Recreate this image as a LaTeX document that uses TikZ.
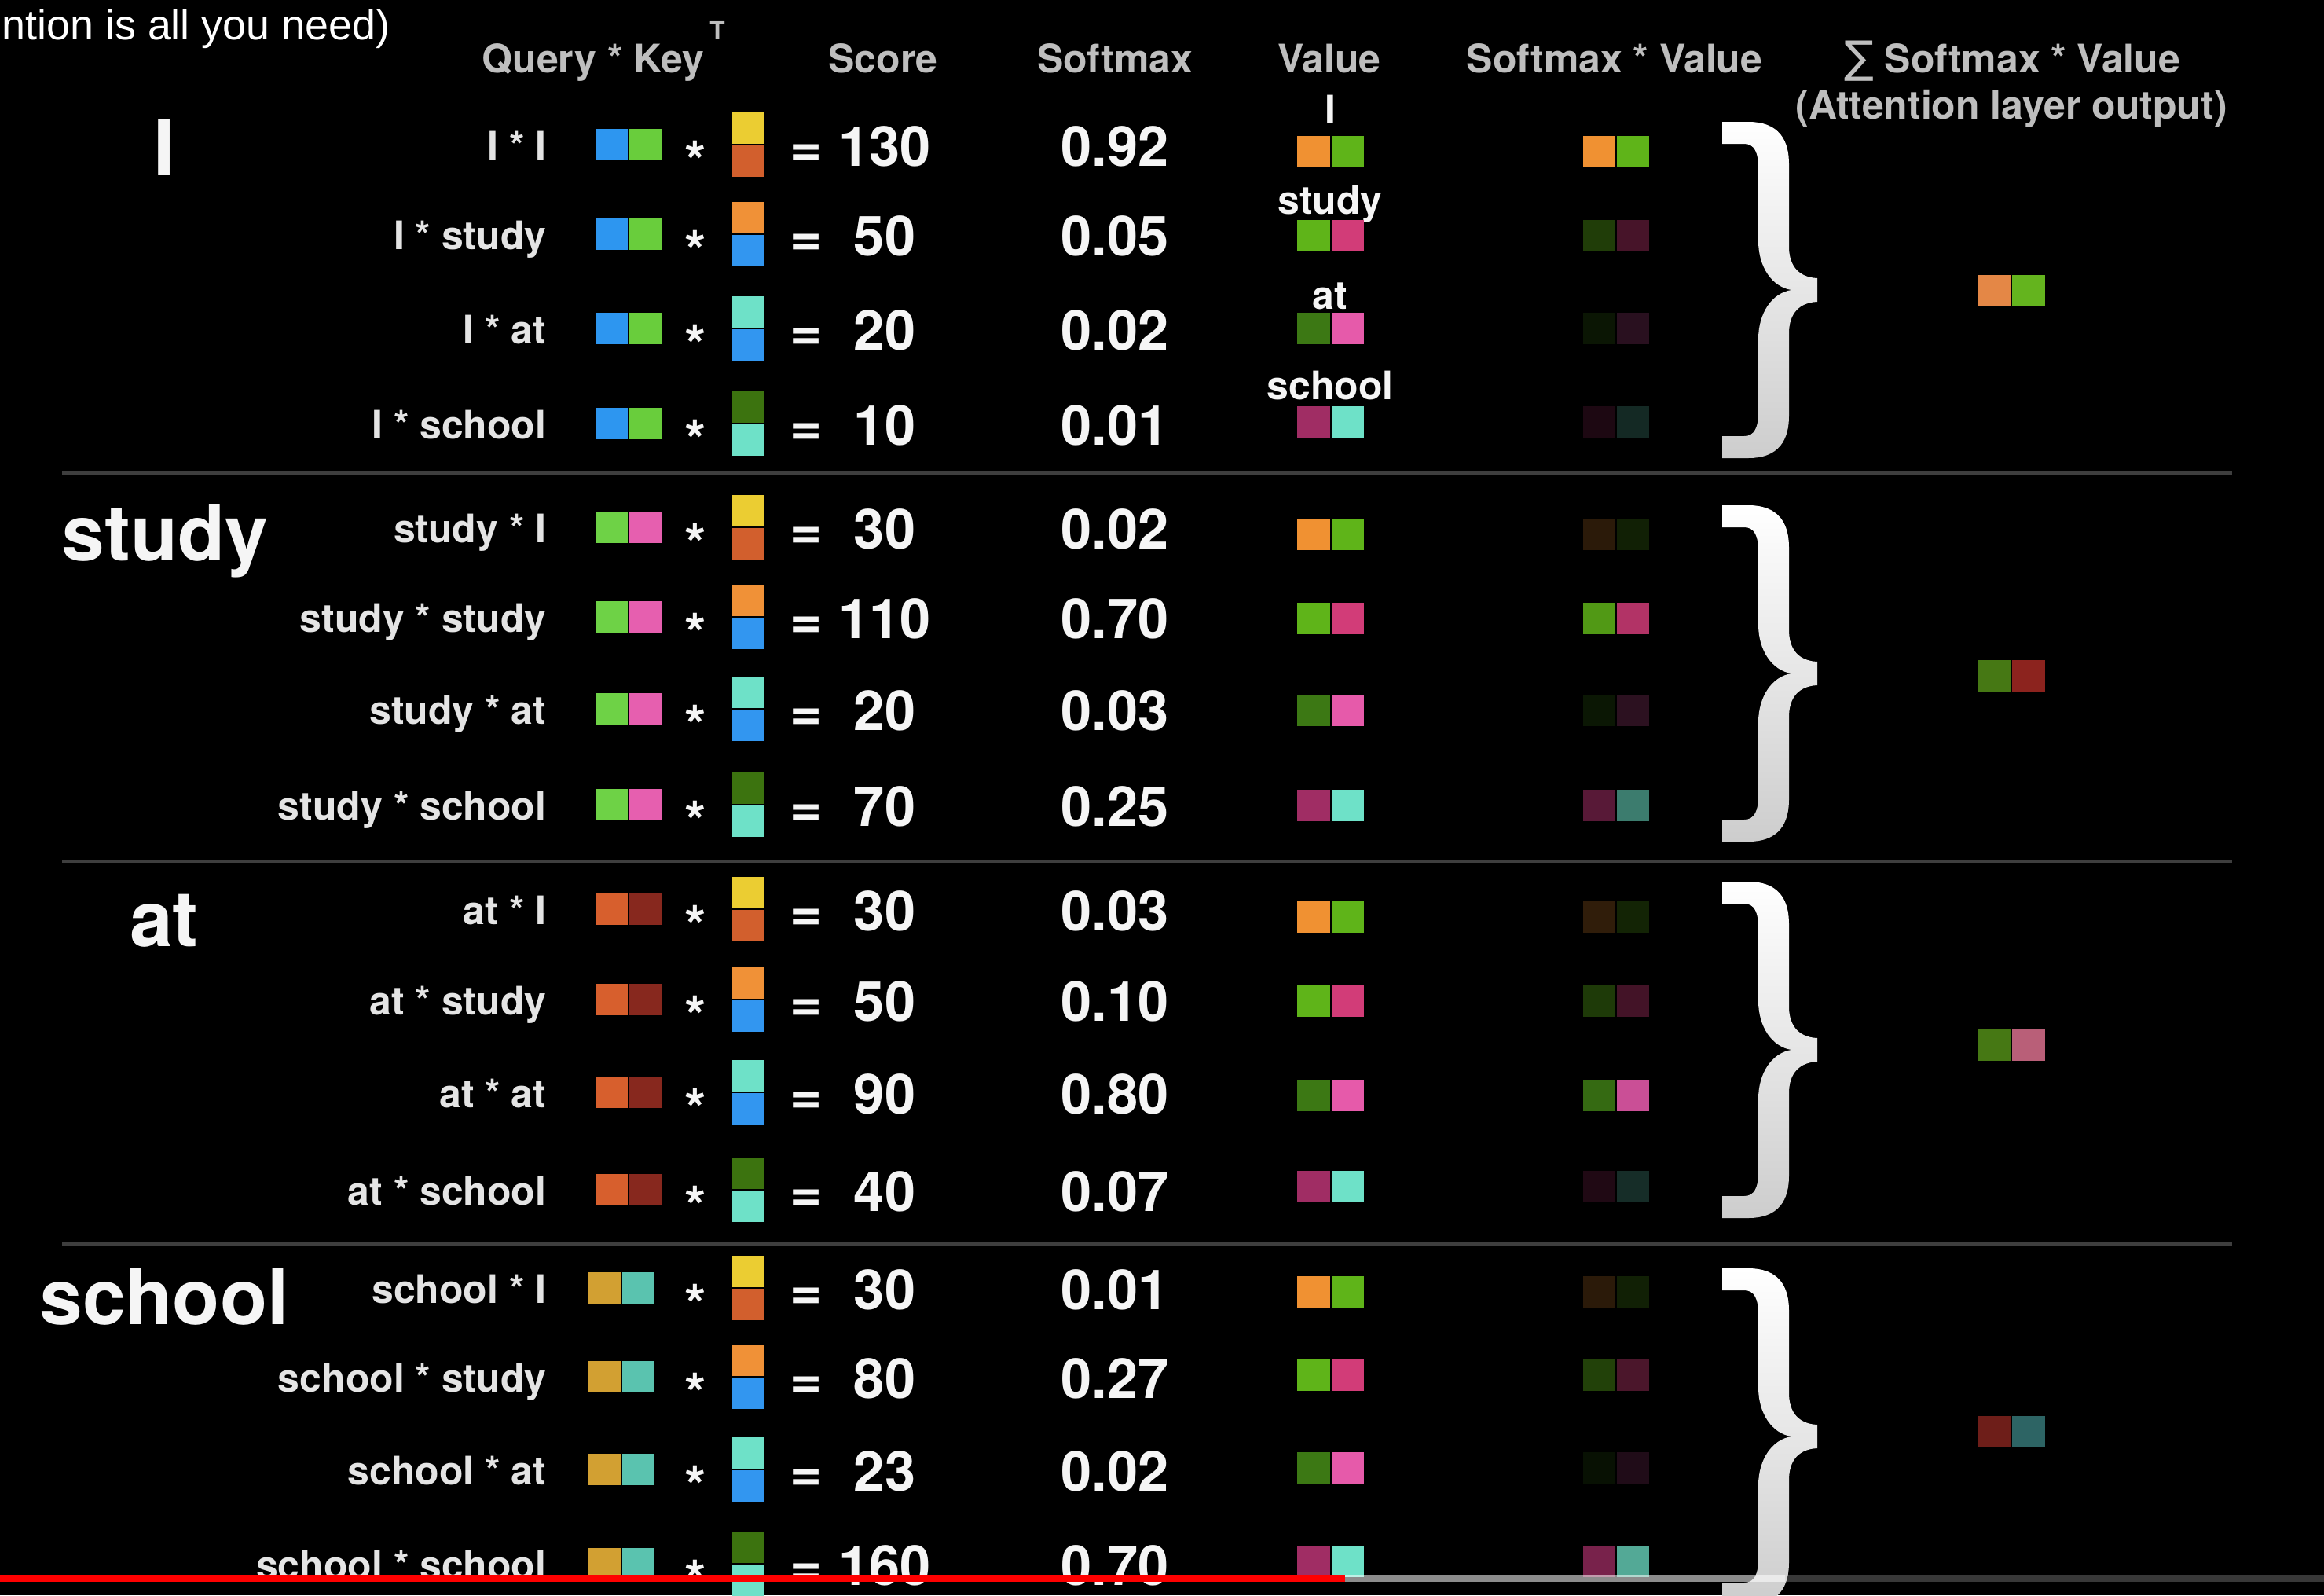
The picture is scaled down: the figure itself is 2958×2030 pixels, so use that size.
\documentclass[tikz,border=0pt]{standalone}
\usepackage{fontspec}
\setmainfont{TeX Gyre Heros}
\newfontfamily\titlefont{Liberation Sans}
\newfontfamily\symfont{DejaVu Sans}

\definecolor{hdrgray}{RGB}{190,190,190}
\definecolor{lblgray}{RGB}{228,228,228}
\definecolor{numwhite}{RGB}{245,245,245}
\definecolor{sepgray}{RGB}{62,62,62}
\definecolor{bracegray}{RGB}{205,205,205}
% query colours per section
\definecolor{qIa}{RGB}{45,150,240}\definecolor{qIb}{RGB}{105,205,60}
\definecolor{qSa}{RGB}{110,210,70}\definecolor{qSb}{RGB}{230,95,175}
\definecolor{qAa}{RGB}{215,95,45}\definecolor{qAb}{RGB}{135,40,30}
\definecolor{qCa}{RGB}{210,160,50}\definecolor{qCb}{RGB}{90,195,175}
% key colours per row
\definecolor{k1t}{RGB}{235,205,50}\definecolor{k1b}{RGB}{210,95,45}
\definecolor{k2t}{RGB}{240,145,55}\definecolor{k2b}{RGB}{50,150,240}
\definecolor{k3t}{RGB}{110,225,200}\definecolor{k3b}{RGB}{50,150,240}
\definecolor{k4t}{RGB}{60,115,15}\definecolor{k4b}{RGB}{110,225,200}
% value colours per row
\definecolor{v1a}{RGB}{240,145,50}\definecolor{v1b}{RGB}{95,180,25}
\definecolor{v2a}{RGB}{95,180,25}\definecolor{v2b}{RGB}{210,60,120}
\definecolor{v3a}{RGB}{60,120,20}\definecolor{v3b}{RGB}{230,90,170}
\definecolor{v4a}{RGB}{160,45,100}\definecolor{v4b}{RGB}{110,225,200}
% outputs
\definecolor{o1a}{RGB}{228,135,70}\definecolor{o1b}{RGB}{100,180,30}
\definecolor{o2a}{RGB}{70,120,20}\definecolor{o2b}{RGB}{140,35,30}
\definecolor{o3a}{RGB}{70,120,20}\definecolor{o3b}{RGB}{185,95,120}
\definecolor{o4a}{RGB}{110,30,25}\definecolor{o4b}{RGB}{45,100,100}

% #1 sec, #2 row, #3 y, #4 label, #5 score, #6 softmax, #7 pct, #8 query x, #9 value y
\newcommand\tabrow[9]{%
  \node[lbl,anchor=base east] (lab#1#2) at (696,#3+19) {#4};
  \fill[q#1a] (#8,#3-20) rectangle ++(41,40);
  \fill[q#1b] (#8+43,#3-20) rectangle ++(41,40);
  \node[stx] (st#1#2) at (885,#3+4) {\raisebox{-0.45em}[0.3em][0pt]{*}};
  \fill[k#2t] (932,#3-41) rectangle ++(41,40);
  \fill[k#2b] (932,#3+1) rectangle ++(41,40);
  \node[num,anchor=base] (eq#1#2) at (1026,#3+27) {=};
  \node[num,anchor=base] (sc#1#2) at (1126,#3+27) {#5};
  \node[num,anchor=base] (sm#1#2) at (1419,#3+27) {#6};
  \fill[v#2a] (1651,#9-20) rectangle ++(42,40);
  \fill[v#2b] (1695,#9-20) rectangle ++(41,40);
  \fill[v#2a!#7!black] (2015,#9-20) rectangle ++(41,40);
  \fill[v#2b!#7!black] (2058,#9-20) rectangle ++(41,40);
}
\newcommand\drawbrace[1]{%
  \path[top color=white,bottom color=bracegray]
   (2192,#1-214) -- (2225,#1-214) .. controls (2265,#1-214) and (2277,#1-190) .. (2277,#1-160)
   -- (2277,#1-55) .. controls (2277,#1-30) and (2290,#1-16) .. (2313,#1-15)
   -- (2313,#1+15) .. controls (2290,#1+16) and (2277,#1+30) .. (2277,#1+55)
   -- (2277,#1+160) .. controls (2277,#1+190) and (2265,#1+214) .. (2225,#1+214)
   -- (2192,#1+214) -- (2192,#1+186) -- (2220,#1+186)
   .. controls (2233,#1+186) and (2238,#1+175) .. (2238,#1+155)
   -- (2238,#1+62) .. controls (2238,#1+30) and (2255,#1+4) .. (2280,#1)
   .. controls (2255,#1-4) and (2238,#1-30) .. (2238,#1-62)
   -- (2238,#1-155) .. controls (2238,#1-175) and (2233,#1-186) .. (2220,#1-186)
   -- (2192,#1-186) -- cycle;}
\newcommand\outpair[3]{%
  \fill[#2] (2518,#1-20) rectangle ++(41,40);
  \fill[#3] (2561,#1-20) rectangle ++(42,40);}

\begin{document}
\begin{tikzpicture}[x=0.01cm,y=-0.01cm,
  hdr/.style={inner sep=0pt,text=hdrgray,font=\bfseries\fontsize{14.2}{17}\selectfont},
  lbl/.style={inner sep=0pt,text=lblgray,font=\bfseries\fontsize{14.2}{17}\selectfont},
  vlbl/.style={inner sep=0pt,text=numwhite,font=\bfseries\fontsize{14.2}{17}\selectfont},
  num/.style={inner sep=0pt,text=numwhite,font=\bfseries\fontsize{20}{24}\selectfont},
  stx/.style={inner sep=0pt,text=numwhite,font=\bfseries\fontsize{20}{24}\selectfont},
  big/.style={inner sep=0pt,text=numwhite,font=\bfseries\fontsize{28}{34}\selectfont},
  sepline/.style={draw=sepgray,line width=0.9pt}]
\fill[black] (0,0) rectangle (2958,2030);
\useasboundingbox (0,0) rectangle (2958,2030);
\clip (0,0) rectangle (2958,2030);

% title fragment
\node[anchor=base west,inner sep=0pt,text=white,font=\titlefont\fontsize{15.3}{18}\selectfont] (title) at (2,51) {ntion is all you need)};

% headers
\node[hdr,anchor=base] (hQK) at (755,92) {Query * Key};
\node[hdr,anchor=base,font=\bfseries\fontsize{9}{11}\selectfont] (hT) at (913,51) {T};
\node[hdr,anchor=base] (hScore) at (1124,92) {Score};
\node[hdr,anchor=base] (hSoft) at (1419,92) {Softmax};
\node[hdr,anchor=base] (hVal) at (1692,92) {Value};
\node[hdr,anchor=base] (hSV) at (2055,92) {Softmax * Value};
\node[hdr,anchor=base] (hSum) at (2561,92) {{\symfont\mdseries\fontsize{16}{18}\selectfont ∑} Softmax * Value};
\node[hdr,anchor=base] (hOut) at (2560,151) {(Attention layer output)};

% big words
\node[big,anchor=base] (wI) at (209,223) {I};
\node[big,anchor=base] (wS) at (210,713) {study};
\node[big,anchor=base] (wA) at (209,1204) {at};
\node[big,anchor=base] (wC) at (209,1685) {school};

% value labels
\node[vlbl,anchor=base] (vlI) at (1693,157) {I};
\node[vlbl,anchor=base] (vlS) at (1693,272) {study};
\node[vlbl,anchor=base] (vlA) at (1693,393) {at};
\node[vlbl,anchor=base] (vlC) at (1693,508) {school};

% separators
\draw[sepline] (79,602) -- (2841,602);
\draw[sepline] (79,1096) -- (2841,1096);
\draw[sepline] (79,1583) -- (2841,1583);

% rows
\tabrow{I}{1}{184}{I * I}{130}{0.92}{100}{758}{193}
\tabrow{I}{2}{298}{I * study}{50}{0.05}{34}{758}{300}
\tabrow{I}{3}{418}{I * at}{20}{0.02}{18}{758}{418}
\tabrow{I}{4}{539}{I * school}{10}{0.01}{18}{758}{537}
\tabrow{S}{1}{671}{study * I}{30}{0.02}{18}{758}{680}
\tabrow{S}{2}{785}{study * study}{110}{0.70}{85}{758}{787}
\tabrow{S}{3}{902}{study * at}{20}{0.03}{19}{758}{904}
\tabrow{S}{4}{1024}{study * school}{70}{0.25}{55}{758}{1025}
\tabrow{A}{1}{1157}{at * I}{30}{0.03}{20}{758}{1167}
\tabrow{A}{2}{1272}{at * study}{50}{0.10}{32}{758}{1274}
\tabrow{A}{3}{1390}{at * at}{90}{0.80}{88}{758}{1394}
\tabrow{A}{4}{1514}{at * school}{40}{0.07}{20}{758}{1510}
\tabrow{C}{1}{1639}{school * I}{30}{0.01}{18}{749}{1644}
\tabrow{C}{2}{1752}{school * study}{80}{0.27}{36}{749}{1750}
\tabrow{C}{3}{1870}{school * at}{23}{0.02}{14}{749}{1868}
\tabrow{C}{4}{1990}{school * school}{160}{0.70}{75}{749}{1987}

% braces
\drawbrace{369}
\drawbrace{857}
\drawbrace{1336}
\drawbrace{1828}

% outputs
\outpair{370}{o1a}{o1b}
\outpair{860}{o2a}{o2b}
\outpair{1330}{o3a}{o3b}
\outpair{1822}{o4a}{o4b}

% progress bar
\fill[red] (0,2004) rectangle (1712,2013);
\fill[white,opacity=0.55] (1712,2004) rectangle (2272,2013);
\fill[white,opacity=0.22] (2272,2004) rectangle (2958,2013);
\end{tikzpicture}
\end{document}
